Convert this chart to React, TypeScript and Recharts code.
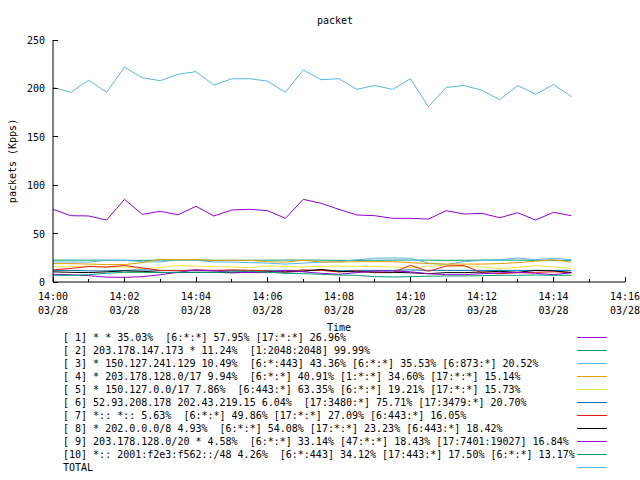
import { LineChart, Line, XAxis, YAxis, Legend } from "recharts";

/* sample times (every 30 s) */
const times = [
  "14:00:00", "14:00:30", "14:01:00", "14:01:30", "14:02:00", "14:02:30",
  "14:03:00", "14:03:30", "14:04:00", "14:04:30", "14:05:00", "14:05:30",
  "14:06:00", "14:06:30", "14:07:00", "14:07:30", "14:08:00", "14:08:30",
  "14:09:00", "14:09:30", "14:10:00", "14:10:30", "14:11:00", "14:11:30",
  "14:12:00", "14:12:30", "14:13:00", "14:13:30", "14:14:00", "14:14:30",
];

/* seconds after 14:00 */
const xTicks = [0, 60, 120, 180, 240, 300, 360, 420, 480, 540, 600, 660, 720, 780, 840, 900, 960];
const xTickLabels = ["14:00", "14:02", "14:04", "14:06", "14:08", "14:10", "14:12", "14:14", "14:16"];
const xTickDate = "03/28";
const yTicks = [0, 50, 100, 150, 200, 250];

const names = [
  "[ 1] * * 35.03%  [6:*:*] 57.95% [17:*:*] 26.96%",
  "[ 2] 203.178.147.173 * 11.24%  [1:2048:2048] 99.99%",
  "[ 3] * 150.127.241.129 10.49%  [6:*:443] 43.36% [6:*:*] 35.53% [6:873:*] 20.52%",
  "[ 4] * 203.178.128.0/17 9.94%  [6:*:*] 40.91% [1:*:*] 34.60% [17:*:*] 15.14%",
  "[ 5] * 150.127.0.0/17 7.86%  [6:443:*] 63.35% [6:*:*] 19.21% [17:*:*] 15.73%",
  "[ 6] 52.93.208.178 202.43.219.15 6.04%  [17:3480:*] 75.71% [17:3479:*] 20.70%",
  "[ 7] *:: *:: 5.63%  [6:*:*] 49.86% [17:*:*] 27.09% [6:443:*] 16.05%",
  "[ 8] * 202.0.0.0/8 4.93%  [6:*:*] 54.08% [17:*:*] 23.23% [6:443:*] 18.42%",
  "[ 9] 203.178.128.0/20 * 4.58%  [6:*:*] 33.14% [47:*:*] 18.43% [17:7401:19027] 16.84%",
  "[10] *:: 2001:f2e3:f562::/48 4.26%  [6:*:443] 34.12% [17:443:*] 17.50% [6:*:*] 13.17%",
  "TOTAL",
];

const colors = [
  "#9400d3", "#009e73", "#56b4e9", "#e69f00", "#f0e442",
  "#0072b2", "#e51e10", "#000000", "#9400d3", "#009e73", "#56b4e9",
];

const s1 = [75.1, 68.5, 68.2, 64, 85.4, 69.9, 73, 69.5, 78.2, 68.2, 74.4, 75.1, 73.7, 65.8, 85.4,
  81.3, 75, 69.2, 68.5, 65.8, 65.8, 65, 73.7, 70.2, 70.9, 66.4, 71.6, 64, 72, 68.5];
const s2 = [22.6, 22.6, 22.6, 22.6, 22.4, 22.4, 22.6, 22.6, 22.6, 22.4, 22.4, 22.4, 22.6, 22.6, 22.6,
  22.6, 22.4, 22.4, 22.4, 22.6, 22.6, 22.6, 22.4, 22.4, 22.6, 22.6, 22.6, 22.4, 22.4, 22.4];
const s3 = [20.7, 20.7, 20.5, 22.4, 22.4, 21, 20.7, 23, 22.4, 20.7, 20.5, 20, 19.5, 18.5, 19.5,
  20.5, 21, 23, 24.5, 24.8, 24.5, 19.5, 18, 21, 22.4, 23, 24.8, 23, 24.5, 23];
const s4 = [19, 19, 18.5, 18, 18, 20, 23.4, 23, 23, 22.4, 22.4, 22.4, 21, 20.5, 22.4,
  20.7, 20.7, 21, 21, 21, 20, 19, 18.5, 18.5, 18.5, 19, 20, 21.5, 23, 20.5];
const s5 = [15.5, 15.8, 16.5, 15.5, 15.5, 13.8, 15, 17, 16.5, 16, 15.5, 14.8, 16.5, 16, 15.5,
  16.2, 16.5, 16, 16, 15.5, 14.8, 16, 17.5, 16, 15.5, 13.8, 15, 17, 15.5, 14];
const s6 = [12, 12, 11.5, 11.5, 12, 12.5, 12, 12, 12, 11.5, 12, 12, 12, 12, 12,
  12, 11.5, 12, 12, 12, 12.5, 12, 12, 12, 12, 12, 12, 12, 12, 12];
const s7 = [12.5, 14, 16, 15.5, 17, 14.5, 12, 11.5, 12.5, 12, 12.5, 12, 11.5, 10.3, 12.5,
  12, 10.3, 11.5, 9.7, 9.7, 17.2, 11, 16.5, 17, 9.5, 8.6, 9.5, 10, 10.5, 10];
const s8 = [10.5, 10, 9.7, 10.5, 11.5, 11, 10, 9.7, 10, 10, 9.5, 10, 10.5, 10.3, 11,
  13, 11, 10.5, 10.3, 10, 9.5, 8.6, 9.7, 9.7, 10.3, 11, 10, 12, 11.5, 9.7];
const s9 = [8, 7.5, 6.5, 5, 4.8, 5.5, 7.5, 10, 12.5, 11.5, 10, 9.7, 9.7, 12, 10.5,
  9, 8, 9.7, 11.4, 11.4, 10.5, 8.6, 7.6, 7.6, 8.6, 9.5, 10, 9, 7.6, 9.5];
const s10 = [6.9, 6.9, 7.5, 9, 10, 10, 9.7, 10, 10, 9.7, 10.5, 11, 10, 9, 8.6,
  8, 7.2, 6.9, 5.5, 5.2, 5.5, 6, 6.2, 6.2, 6.5, 6.9, 6.9, 7.2, 6.9, 7];
const total = [201, 196, 208.5, 196, 222, 211, 208, 214.6, 217.3, 203.4, 209.9, 210, 207.5, 196, 219,
  209, 210, 199, 203, 199, 210, 181, 201, 203, 198, 188.4, 203, 194, 204, 191.5];

const series = [s1, s2, s3, s4, s5, s6, s7, s8, s9, s10, total];

const data = times.map((t, i) => {
  const [h, m, s] = t.split(":").map(Number);
  const row: Record<string, number> = { t: (h - 14) * 3600 + m * 60 + s };
  series.forEach((arr, k) => { row["s" + k] = arr[i]; });
  return row;
});

const font = "'DejaVu Sans Mono', monospace";

/* gnuplot style ticks: pointing inwards, minor ticks every minute */
function BottomTick({ x, y, payload }: any) {
  const v = payload.value;
  const major = v % 120 === 0;
  return (
    <g>
      <line x1={x} y1={y} x2={x} y2={y - (major ? 5 : 3)} stroke="#000" shapeRendering="crispEdges" />
      {major && (
        <text x={x} y={y} textAnchor="middle" fontFamily={font} fontSize={10} fill="#000">
          <tspan x={x} dy={18}>{xTickLabels[v / 120]}</tspan>
          <tspan x={x} dy={14}>{xTickDate}</tspan>
        </text>
      )}
    </g>
  );
}

function TopTick({ x, y, payload }: any) {
  const major = payload.value % 120 === 0;
  return <line x1={x} y1={y} x2={x} y2={y + (major ? 5 : 3)} stroke="#000" shapeRendering="crispEdges" />;
}

function LeftTick({ x, y, payload }: any) {
  return (
    <g>
      <line x1={x} y1={y} x2={x + 5} y2={y} stroke="#000" shapeRendering="crispEdges" />
      <text x={x - 8} y={y} dy={4} textAnchor="end" fontFamily={font} fontSize={10} fill="#000">
        {payload.value}
      </text>
    </g>
  );
}

function RightTick({ x, y }: any) {
  return <line x1={x} y1={y} x2={x - 5} y2={y} stroke="#000" shapeRendering="crispEdges" />;
}

function renderLegend({ payload }: any) {
  return (
    <div style={{ fontFamily: font, fontSize: 10, color: "#000", position: "relative" }}>
      {names.map((n, k) => {
        const item = payload?.find((p: any) => p.value === n);
        const color = item?.color ?? colors[k];
        return (
          <div key={n} style={{ height: 13, lineHeight: "13px", position: "relative", whiteSpace: "pre" }}>
            <span style={{ position: "absolute", left: 63 }}>{n}</span>
            <span style={{ position: "absolute", left: 577, top: 6, width: 30, height: 1, background: color }} />
          </div>
        );
      })}
    </div>
  );
}

export default function App() {
  return (
    <div style={{ position: "relative", width: 640, height: 480, background: "#fff" }}>
      <style>{"body{margin:0}"}</style>
      <div style={{
        position: "absolute", top: 15, left: 0, width: 670, textAlign: "center",
        fontFamily: font, fontSize: 10, lineHeight: "12px", color: "#000",
      }}>packet</div>
      <LineChart width={640} height={480} data={data} margin={{ top: 40, right: 15, bottom: 148, left: 0 }}>
        <XAxis
          dataKey="t" type="number" domain={[0, 960]} ticks={xTicks} interval={0}
          height={50} tickSize={0} tickMargin={0} tickLine={false}
          axisLine={{ stroke: "#000" }} tick={<BottomTick />}
          label={{ value: "Time", position: "insideBottom", offset: 1, fontFamily: font, fontSize: 10, fill: "#000" }}
        />
        <XAxis
          xAxisId="top" orientation="top" dataKey="t" type="number" domain={[0, 960]} ticks={xTicks}
          interval={0} height={0} tickSize={0} tickMargin={0} tickLine={false}
          axisLine={{ stroke: "#000" }} tick={<TopTick />}
        />
        <YAxis
          type="number" domain={[0, 250]} ticks={yTicks} interval={0} width={53}
          tickSize={0} tickMargin={0} tickLine={false} axisLine={{ stroke: "#000" }} tick={<LeftTick />}
          label={{
            value: "packets (Kpps)", angle: -90, position: "insideLeft", offset: 12,
            fontFamily: font, fontSize: 10, fill: "#000", style: { textAnchor: "middle" },
          }}
        />
        <YAxis
          yAxisId="right" orientation="right" type="number" domain={[0, 250]} ticks={yTicks}
          interval={0} width={0} tickSize={0} tickMargin={0} tickLine={false}
          axisLine={{ stroke: "#000" }} tick={<RightTick />}
        />
        {series.map((_, k) => (
          <Line
            key={k}
            type="linear"
            dataKey={"s" + k}
            name={names[k]}
            stroke={colors[k]}
            strokeWidth={1}
            dot={false}
            activeDot={false}
            isAnimationActive={false}
          />
        ))}
        <Legend
          layout="horizontal" verticalAlign="middle" align="center"
          wrapperStyle={{ top: 331, left: 0, width: 640 }}
          content={renderLegend}
        />
      </LineChart>
    </div>
  );
}
